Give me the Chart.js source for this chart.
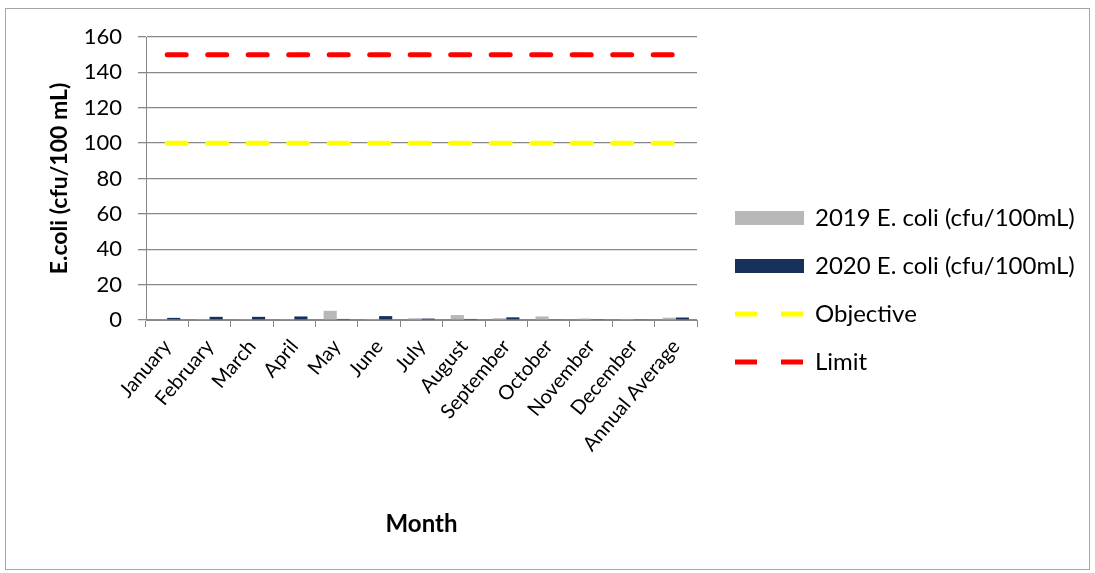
<!DOCTYPE html>
<html>
<head>
<meta charset="utf-8">
<script src="https://cdn.jsdelivr.net/npm/chart.js@4"></script>
<style>
  html, body { margin: 0; padding: 0; background: #fff; }
  #wrap { width: 1095px; height: 573px; position: relative; }
</style>
</head>
<body>
<div id="wrap"><canvas id="chart" width="1095" height="573"></canvas></div>
<script>
// ── Data ─────────────────────────────────────────────
const months = ['January', 'February', 'March', 'April', 'May', 'June', 'July',
  'August', 'September', 'October', 'November', 'December', 'Annual Average'];
const ecoli2019 = [0.3, 0.6, 0.2, 0.5, 5.2, 0.6, 1.0, 2.8, 1.0, 2.0, 0.8, 0.6, 1.3];
const ecoli2020 = [1.2, 1.8, 1.8, 2.0, 0.6, 2.2, 0.8, 0.6, 1.5, 0.3, 0.5, 0.3, 1.4];
const objective = [100, 100, 100, 100, 100, 100, 100, 100, 100, 100, 100, 100, 100];
const limit     = [150, 150, 150, 150, 150, 150, 150, 150, 150, 150, 150, 150, 150];

const FONT = 'Lato';
const GRID = '#888888';

// frame round the whole chart
const framePlugin = {
  id: 'frame',
  beforeDraw(chart) {
    const c = chart.ctx;
    c.save();
    c.fillStyle = '#fff';
    c.fillRect(0, 0, chart.width, chart.height);
    c.strokeStyle = '#a6a6a6';
    c.lineWidth = 1;
    c.strokeRect(5.5, 8.5, 1084, 561);
    c.restore();
  }
};

// Excel-like legend on the right
const sideLegend = {
  id: 'sideLegend',
  afterDraw(chart) {
    const c = chart.ctx;
    const x0 = 735, w = 69, y0 = 218, gap = 48;
    c.save();
    c.font = `24px ${FONT}`;
    c.textBaseline = 'middle';
    chart.data.datasets.forEach((ds, i) => {
      const y = y0 + i * gap;
      if (ds.type === 'line') {
        c.strokeStyle = ds.borderColor;
        c.lineWidth = ds.borderWidth;
        c.setLineDash([22, 24]);
        c.beginPath();
        c.moveTo(x0, y);
        c.lineTo(x0 + w, y);
        c.stroke();
        c.setLineDash([]);
      } else {
        c.fillStyle = ds.backgroundColor;
        c.fillRect(x0, y - 7, w, 14);
      }
      c.fillStyle = '#000';
      c.fillText(ds.label, 815, y);
    });
    c.restore();
  }
};

new Chart(document.getElementById('chart'), {
  data: {
    labels: months,
    datasets: [
      { type: 'bar', label: '2019 E. coli (cfu/100mL)', data: ecoli2019,
        backgroundColor: '#b8b8b8', order: 2 },
      { type: 'bar', label: '2020 E. coli (cfu/100mL)', data: ecoli2020,
        backgroundColor: '#17305a', order: 3 },
      { type: 'line', label: 'Objective', data: objective,
        borderColor: '#ffff00', borderWidth: 5, borderDash: [19, 21.5],
        borderCapStyle: 'round', pointRadius: 0, fill: false, order: 1 },
      { type: 'line', label: 'Limit', data: limit,
        borderColor: '#ff0000', borderWidth: 5, borderDash: [19, 21.5],
        borderCapStyle: 'round', pointRadius: 0, fill: false, order: 0 }
    ]
  },
  options: {
    responsive: false,
    animation: false,
    layout: { padding: { left: 0, right: 398, top: 37, bottom: 0 } },
    datasets: { bar: { categoryPercentage: 0.62, barPercentage: 1 } },
    plugins: {
      legend: { display: false },
      tooltip: { enabled: false }
    },
    scales: {
      x: {
        afterFit: s => { s.height = 253; },
        grid: { display: true, drawOnChartArea: false, drawTicks: true, tickLength: 7,
                color: GRID, offset: true },
        border: { display: true, color: GRID },
        ticks: { minRotation: 50, maxRotation: 50, autoSkip: false, padding: 8,
                 color: '#000', font: { family: FONT, size: 20 } },
        title: { display: true, text: 'Month', color: '#000',
                 font: { family: FONT, size: 24, weight: 'bold' },
                 padding: { top: 0, bottom: 34 } }
      },
      y: {
        min: 0, max: 160,
        afterFit: s => { s.width = 146; },
        grid: { color: GRID, lineWidth: 1.3, drawTicks: true, tickLength: 8 },
        border: { display: true, color: GRID },
        ticks: { stepSize: 20, padding: 16, color: '#000',
                 font: { family: FONT, size: 22 } },
        title: { display: true, text: 'E.coli (cfu/100 mL)', color: '#000',
                 font: { family: FONT, size: 23, weight: 'bold' },
                 padding: { top: 46, bottom: 0 } }
      }
    }
  },
  plugins: [framePlugin, sideLegend]
});
</script>
</body>
</html>
